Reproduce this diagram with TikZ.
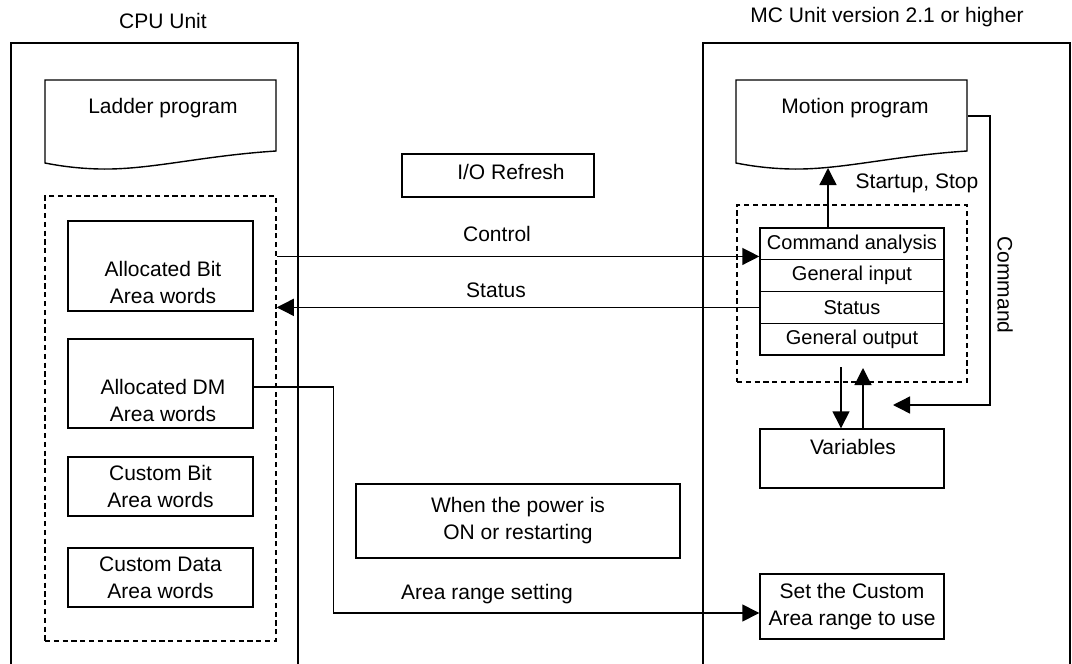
\documentclass[tikz,border=0pt]{standalone}
\usepackage{fontspec}
\setmainfont{Liberation Sans}
\usetikzlibrary{arrows.meta}
\newcommand*{\pxl}{0.5pt}
\newcommand*{\docshape}[1]{%
  \draw (#1,80) -- ({#1+231},80) -- ({#1+231},151)
    .. controls ({#1+155},156) and ({#1+105},170) .. ({#1+55},169)
    .. controls ({#1+30},168.5) and ({#1+10},165) .. (#1,163) -- cycle;}

\begin{document}
\begin{tikzpicture}[x=\pxl, y=-\pxl, line width=0.7pt,
    font=\fontsize{10.5}{13.5}\selectfont,
    box/.style={draw, inner sep=0pt, align=center},
    dashbox/.style={draw, dash pattern=on 2.6pt off 1.8pt, line width=0.75pt, inner sep=0pt},
    row/.style={box, minimum width=184*\pxl, minimum height=31.75*\pxl, font=\fontsize{10}{12}\selectfont},
    arr/.style={-{Triangle[length=8.5pt,width=8.5pt]}}]
    \useasboundingbox (0,0) rectangle (1072,664);
    % CPU Unit
    \node[anchor=base] (cputitle) at (163,28) {CPU Unit};
    \draw (11,664) -- (11,43) -- (298,43) -- (298,664);
    \docshape{45}
    \node[anchor=base] (ladder) at (163,113) {Ladder program};
    \node[dashbox, minimum width=231*\pxl, minimum height=445*\pxl] (cpuarea) at (160.5,418.5) {};
    \node[box, minimum width=185*\pxl, minimum height=90*\pxl] (allocbit) at (160.5,266) {};
    \node[align=center] (allocbittxt) at (163,282) {Allocated Bit\\Area words};
    \node[box, minimum width=185*\pxl, minimum height=89*\pxl] (allocdm) at (160.5,383.5) {};
    \node[align=center] (allocdmtxt) at (163,400) {Allocated DM\\Area words};
    \node[box, minimum width=185*\pxl, minimum height=59*\pxl] (custbit) at (160.5,486.5) {Custom Bit\\Area words};
    \node[box, minimum width=185*\pxl, minimum height=59*\pxl] (custdata) at (160.5,577.5) {Custom Data\\Area words};
    % middle
    \node[box, minimum width=192*\pxl, minimum height=43*\pxl] (iobox) at (498,175.5) {};
    \node[anchor=base] (iotxt) at (511,179) {I/O Refresh};
    \node[box, minimum width=324*\pxl, minimum height=74*\pxl] (power) at (518,521) {When the power is\\ON or restarting};
    % MC Unit
    \node[anchor=base] (mctitle) at (887,23) {MC Unit version 2.1 or higher};
    \draw (703,664) -- (703,43) -- (1070,43) -- (1070,664);
    \docshape{736}
    \node[anchor=base] (motion) at (855,113) {Motion program};
    \node[dashbox, minimum width=230*\pxl, minimum height=177*\pxl] (mcarea) at (852,293.5) {};
    \foreach \txt [count=\i] in {Command analysis, General input, Status, General output}
        \node[row] (tab\i) at (852,{212.125+31.75*\i}) {\txt};
    \node[box, minimum width=184*\pxl, minimum height=59*\pxl] (vars) at (852,458.5) {};
    \node[anchor=base] (varstxt) at (853,454) {Variables};
    \node[box, minimum width=184*\pxl, minimum height=65*\pxl] (setarea) at (852,606.5) {Set the Custom\\Area range to use};
    % connectors
    \coordinate (ctrlend) at ([yshift=2pt]tab1.south west);
    \draw[arr] (cpuarea.east |- ctrlend) -- (ctrlend);
    \node[anchor=base] (ctrllbl) at (497,241) {Control};
    \draw[arr] (tab3.west) -- (tab3.west -| cpuarea.east);
    \node[anchor=base] (statlbl) at (496,297) {Status};
    \draw[arr] ([yshift=-1.75pt]allocdm.east) -- ++(80,0) |- ([yshift=-3.25pt]setarea.west);
    \node[anchor=base] (rangelbl) at (487,599) {Area range setting};
    \coordinate (mtip) at (828,168);
    \draw[arr] (mtip |- tab1.north) -- (mtip);
    \node[anchor=base] (startlbl) at (917,188) {Startup, Stop};
    \coordinate (mout) at (968,116);
    \coordinate (cmdend) at (893,405);
    \draw[arr] (mout) -- ++(22,0) |- (cmdend);
    \node[rotate=-90] (cmdlbl) at (1005,285) {Command};
    \coordinate (vdown) at (841,367);
    \draw[arr] (vdown) -- (vdown |- vars.north);
    \coordinate (vup) at (863,368);
    \draw[arr] (vup |- vars.north) -- (vup);
\end{tikzpicture}
\end{document}
